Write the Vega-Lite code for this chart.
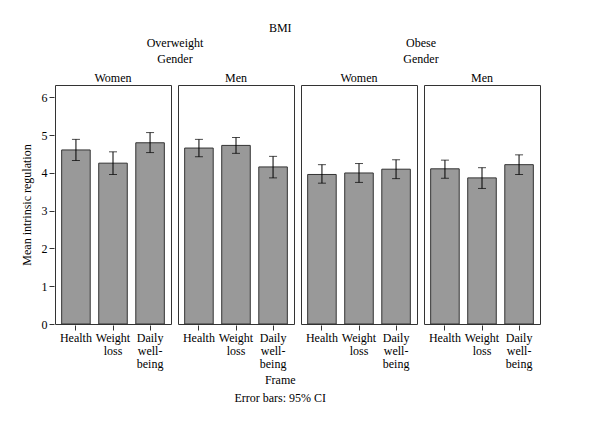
{
  "$schema": "https://vega.github.io/schema/vega-lite/v6.json",
  "padding": {"left": 20, "top": 22, "right": 5, "bottom": 5},
  "title": {"text": "BMI", "font": "Liberation Serif", "fontSize": 12, "fontWeight": "normal", "color": "black", "anchor": "middle", "offset": 2},
  "data": {"values": [
    {"BMI": "Overweight", "Gender": "Women", "Frame": "Health", "mean": 4.61, "lo": 4.33, "hi": 4.89},
    {"BMI": "Overweight", "Gender": "Women", "Frame": "Weight loss", "mean": 4.26, "lo": 3.96, "hi": 4.56},
    {"BMI": "Overweight", "Gender": "Women", "Frame": "Daily well-being", "mean": 4.80, "lo": 4.54, "hi": 5.07},
    {"BMI": "Overweight", "Gender": "Men", "Frame": "Health", "mean": 4.66, "lo": 4.43, "hi": 4.89},
    {"BMI": "Overweight", "Gender": "Men", "Frame": "Weight loss", "mean": 4.73, "lo": 4.52, "hi": 4.94},
    {"BMI": "Overweight", "Gender": "Men", "Frame": "Daily well-being", "mean": 4.16, "lo": 3.87, "hi": 4.44},
    {"BMI": "Obese", "Gender": "Women", "Frame": "Health", "mean": 3.96, "lo": 3.73, "hi": 4.22},
    {"BMI": "Obese", "Gender": "Women", "Frame": "Weight loss", "mean": 4.00, "lo": 3.75, "hi": 4.25},
    {"BMI": "Obese", "Gender": "Women", "Frame": "Daily well-being", "mean": 4.10, "lo": 3.85, "hi": 4.35},
    {"BMI": "Obese", "Gender": "Men", "Frame": "Health", "mean": 4.11, "lo": 3.86, "hi": 4.34},
    {"BMI": "Obese", "Gender": "Men", "Frame": "Weight loss", "mean": 3.87, "lo": 3.59, "hi": 4.14},
    {"BMI": "Obese", "Gender": "Men", "Frame": "Daily well-being", "mean": 4.22, "lo": 3.96, "hi": 4.48}
  ]},
  "config": {
    "font": "Liberation Serif",
    "view": {"stroke": "#333333", "strokeWidth": 1},
    "axis": {"labelFont": "Liberation Serif", "titleFont": "Liberation Serif", "labelColor": "black", "titleColor": "black", "tickColor": "#333333", "grid": false, "domain": false, "labelFontSize": 12, "titleFontSize": 12, "titleFontWeight": "normal"},
    "axisX": {"title": null, "labelAngle": 0, "labelBaseline": "top", "labelLineHeight": 13, "labelExpr": "datum.value == 'Weight loss' ? ['Weight','loss'] : datum.value == 'Daily well-being' ? ['Daily','well-','being'] : datum.value"},
    "axisY": {"values": [0, 1, 2, 3, 4, 5, 6], "titlePadding": 8},
    "header": {"labelFont": "Liberation Serif", "titleFont": "Liberation Serif", "labelFontSize": 12, "titleFontSize": 12, "titleFontWeight": "normal", "labelColor": "black", "titleColor": "black", "labelPadding": -1, "titlePadding": -4, "titleLineHeight": 16},
    "title": {"font": "Liberation Serif"}
  },
  "vconcat": [
    {
      "title": {"text": ["Frame", "Error bars: 95% CI"], "orient": "bottom", "fontSize": 12, "fontWeight": "normal", "color": "black", "anchor": "middle", "lineHeight": 18, "offset": 6},
      "spacing": 5,
      "hconcat": [
        {
          "transform": [{"filter": "datum.BMI == 'Overweight'"}],
          "facet": {"column": {"field": "Gender", "type": "nominal", "sort": ["Women", "Men"], "title": ["Overweight", "Gender"]}},
          "spacing": 5,
          "spec": {
            "width": 116,
            "height": 239,
            "layer": [
              {
                "mark": {"type": "bar", "color": "#999999", "stroke": "#333333", "strokeWidth": 1},
                "encoding": {
                  "x": {"field": "Frame", "type": "nominal", "sort": ["Health", "Weight loss", "Daily well-being"], "scale": {"paddingInner": 0.23, "paddingOuter": 0.18}},
                  "y": {"field": "mean", "type": "quantitative", "title": "Mean intrinsic regulation", "scale": {"domain": [0, 6.33], "nice": false}}
                }
              },
              {
                "mark": {"type": "errorbar", "color": "black", "thickness": 1, "ticks": {"size": 8, "thickness": 1, "color": "black"}},
                "encoding": {
                  "x": {"field": "Frame", "type": "nominal", "sort": ["Health", "Weight loss", "Daily well-being"]},
                  "y": {"field": "lo", "type": "quantitative", "title": "Mean intrinsic regulation"},
                  "y2": {"field": "hi"}
                }
              }
            ]
          }
        },
        {
          "transform": [{"filter": "datum.BMI == 'Obese'"}],
          "facet": {"column": {"field": "Gender", "type": "nominal", "sort": ["Women", "Men"], "title": ["Obese", "Gender"]}},
          "spacing": 5,
          "spec": {
            "width": 116,
            "height": 239,
            "layer": [
              {
                "mark": {"type": "bar", "color": "#999999", "stroke": "#333333", "strokeWidth": 1},
                "encoding": {
                  "x": {"field": "Frame", "type": "nominal", "sort": ["Health", "Weight loss", "Daily well-being"], "scale": {"paddingInner": 0.23, "paddingOuter": 0.18}},
                  "y": {"field": "mean", "type": "quantitative", "scale": {"domain": [0, 6.33], "nice": false}, "axis": null}
                }
              },
              {
                "mark": {"type": "errorbar", "color": "black", "thickness": 1, "ticks": {"size": 8, "thickness": 1, "color": "black"}},
                "encoding": {
                  "x": {"field": "Frame", "type": "nominal", "sort": ["Health", "Weight loss", "Daily well-being"]},
                  "y": {"field": "lo", "type": "quantitative", "axis": null},
                  "y2": {"field": "hi"}
                }
              }
            ]
          }
        }
      ]
    }
  ]
}
